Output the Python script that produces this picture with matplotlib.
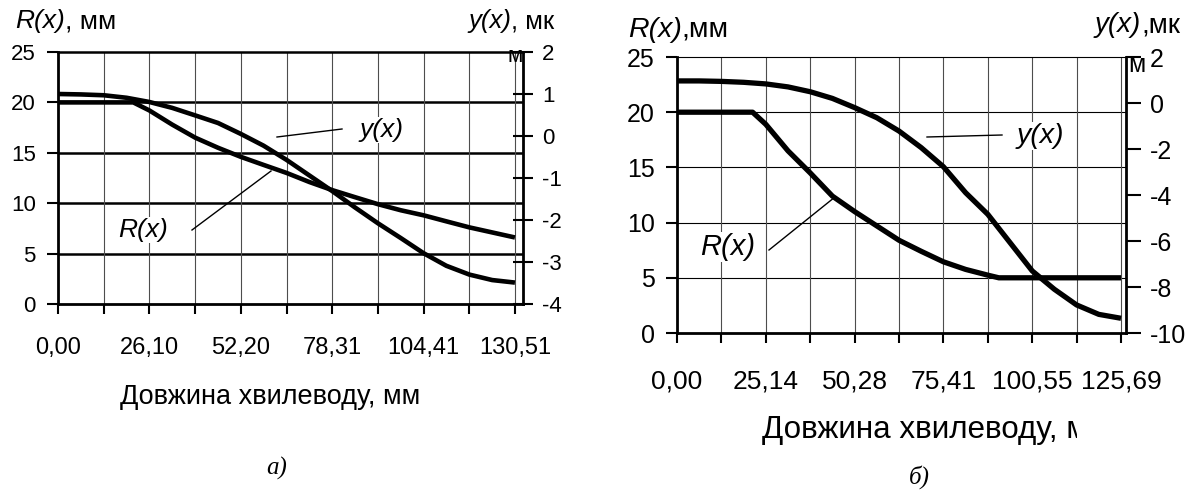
import matplotlib
matplotlib.use("Agg")
import matplotlib.pyplot as plt
from matplotlib.lines import Line2D
from matplotlib.transforms import Bbox, TransformedBbox

plt.rcParams.update({
    "font.family": ["Liberation Sans", "DejaVu Sans"],
    "axes.unicode_minus": False,
})

W, H = 1200, 490

# --- панель а) ---
xa_ticks = [0.0, 13.05, 26.10, 39.15, 52.20, 65.26, 78.31, 91.36, 104.41, 117.46, 130.51]
xa_labels = ["0,00", "", "26,10", "", "52,20", "", "78,31", "", "104,41", "", "130,51"]
xa_R = [0, 6.5, 13.1, 19.6, 21.5, 26.1, 32.6, 39.2, 45.7, 52.2, 58.7, 65.3, 71.8,
        78.3, 84.8, 91.4, 97.9, 104.4, 110.9, 117.5, 124.0, 130.5]
Ra = [20.0, 20.0, 20.0, 20.0, 20.0, 19.2, 17.8, 16.5, 15.5, 14.6, 13.8, 13.0, 12.1,
      11.3, 10.6, 9.9, 9.3, 8.8, 8.2, 7.6, 7.1, 6.6]
xa_y = [0, 6.5, 13.1, 19.6, 26.1, 32.6, 39.2, 45.7, 52.2, 58.7, 65.3, 71.8, 78.3,
        84.8, 91.4, 97.9, 104.4, 110.9, 117.5, 124.0, 130.5]
ya = [1.00, 0.99, 0.97, 0.91, 0.81, 0.67, 0.49, 0.31, 0.05, -0.23, -0.57, -0.94,
      -1.31, -1.70, -2.08, -2.43, -2.79, -3.09, -3.30, -3.43, -3.49]
ya_ticks = [2, 1, 0, -1, -2, -3, -4]

# --- панель б) ---
xb_ticks = [0.0, 12.57, 25.14, 37.71, 50.28, 62.85, 75.41, 87.98, 100.55, 113.12, 125.69]
xb_labels = ["0,00", "", "25,14", "", "50,28", "", "75,41", "", "100,55", "", "125,69"]
xb = [0, 6.28, 12.57, 18.85, 21.4, 25.14, 31.42, 37.71, 43.99, 50.28, 56.56, 62.85,
      69.13, 75.41, 81.70, 87.98, 91.1, 94.27, 100.55, 106.83, 113.12, 119.40, 125.69]
Rb = [20.0, 20.0, 20.0, 20.0, 20.0, 18.9, 16.5, 14.5, 12.4, 11.0, 9.7, 8.4,
      7.4, 6.45, 5.76, 5.24, 5.0, 5.0, 5.0, 5.0, 5.0, 5.0, 5.0]
xb_y = [0, 6.28, 12.57, 18.85, 25.14, 31.42, 37.71, 43.99, 50.28, 56.56, 62.85,
        69.13, 75.41, 81.70, 87.98, 94.27, 100.55, 106.83, 113.12, 119.40, 125.69]
yb = [0.96, 0.96, 0.94, 0.90, 0.83, 0.70, 0.49, 0.20, -0.20, -0.64, -1.22, -1.94,
      -2.77, -3.90, -4.84, -6.07, -7.30, -8.10, -8.78, -9.19, -9.36]
yb_ticks = [2, 0, -2, -4, -6, -8, -10]

R_ticks = [0, 5, 10, 15, 20, 25]


def fpos(px, py):
    return px / W, 1 - py / H


def panel(rect, xt, xl, xmax, xR, R, xy, y, y_lim, y_ticks, hgrid_lw, top_lw,
          tick_fs, xtick_fs, xpad, lw, rdir, rlen):
    x0, y0, x1, y1 = rect
    ax = fig.add_axes([x0 / W, 1 - y1 / H, (x1 - x0) / W, (y1 - y0) / H])
    ax.set_xlim(0, xmax)
    ax.set_ylim(0, 25)
    ax.set_xticks(xt)
    ax.set_xticklabels(xl, fontsize=xtick_fs)
    ax.set_yticks(R_ticks)
    ax.tick_params(axis="y", labelsize=tick_fs, length=8, width=1.5, pad=8)
    ax.tick_params(axis="x", length=7, width=1.5, pad=xpad)
    for v in R_ticks[1:-1]:
        ax.axhline(v, color="black", lw=hgrid_lw, zorder=1)
    for v in xt[1:]:
        ax.axvline(v, color="0.3", lw=0.8, zorder=1)
    ax.spines["top"].set_linewidth(top_lw)
    ax.spines["left"].set_linewidth(2)
    ax.spines["bottom"].set_linewidth(2)
    ax.spines["right"].set_visible(False)
    ax.plot(xR, R, color="black", lw=lw, zorder=3, solid_capstyle="butt")

    ax2 = ax.twinx()
    ax2.set_ylim(*y_lim)
    ax2.set_yticks(y_ticks)
    ax2.tick_params(axis="y", labelsize=tick_fs, direction=rdir, length=rlen,
                    width=1.5, pad=6)
    for s in ["top", "left", "bottom"]:
        ax2.spines[s].set_visible(False)
    ax2.spines["right"].set_linewidth(2)
    ax2.plot(xy, y, color="black", lw=lw, zorder=3, solid_capstyle="butt")
    return ax, ax2


def mixed(px, py, ital, rest, fs):
    """Курсивна частина + звичайний текст одразу за нею."""
    t1 = fig.text(*fpos(px, py), ital, fontsize=fs, style="italic",
                  ha="left", va="center")
    bb = t1.get_window_extent(renderer=fig.canvas.get_renderer())
    fig.text(bb.x1 / W, 1 - py / H, rest, fontsize=fs, ha="left", va="center")


fig = plt.figure(figsize=(W / 100, H / 100), dpi=100)

panel((58, 52, 523, 304), xa_ticks, xa_labels, 132.8, xa_R, Ra, xa_y, ya,
      (-4, 2), ya_ticks, 1.8, 1.8, 16, 17, 17, 3.3, "inout", 15)
panel((677, 57, 1126, 333), xb_ticks, xb_labels, 127.1, xb, Rb, xb_y, yb,
      (-10, 2), yb_ticks, 0.8, 0.8, 18, 19, 19, 3.8, "out", 11)

# підписи осей
mixed(15, 21, "R(x)", ", мм", 19)
mixed(468, 21, "y(x)", ", мк", 18.5)
fig.text(*fpos(515, 56), "м", fontsize=16, ha="center", va="center")
mixed(628, 30, "R(x)", ",мм", 20.5)
mixed(1095, 25, "y(x)", ",мк", 20)
fig.text(*fpos(1137, 65), "м", fontsize=18, ha="center", va="center")

fig.text(*fpos(270, 397), "Довжина хвилеводу, мм", fontsize=19.5, ha="center", va="center")
t = fig.text(*fpos(762, 430), "Довжина хвилеводу, мм", fontsize=22.6, ha="left", va="center")
t.set_clip_box(TransformedBbox(Bbox([[0, 0], [1077 / W, 1]]), fig.transFigure))
t.set_clip_on(True)

fig.text(*fpos(277, 468), "а)", fontsize=18, family="Liberation Serif",
         style="italic", ha="center", va="center")
fig.text(*fpos(919, 477), "б)", fontsize=18, family="Liberation Serif",
         style="italic", ha="center", va="center")

# виноски
box = dict(facecolor="white", edgecolor="none", pad=1)
labels = ["y(x)", "R(x)", "y(x)", "R(x)"]
spots = [((382, 130), (277, 137, 342, 129), 19),
         ((143, 230), (192, 230, 271, 171), 19),
         ((1040, 136), (927, 137, 1002, 135), 20.5),
         ((728, 247), (769, 250, 835, 197), 21)]
for lab, ((tx, ty), (lx0, ly0, lx1, ly1), fs) in zip(labels, spots):
    fig.text(*fpos(tx, ty), lab, fontsize=fs, style="italic", ha="center",
             va="center", bbox=box, zorder=5)
    a, b = fpos(lx0, ly0)
    c, d = fpos(lx1, ly1)
    fig.add_artist(Line2D([a, c], [b, d], color="black", lw=1,
                          transform=fig.transFigure, zorder=5))

fig.savefig("out.png", dpi=100)
